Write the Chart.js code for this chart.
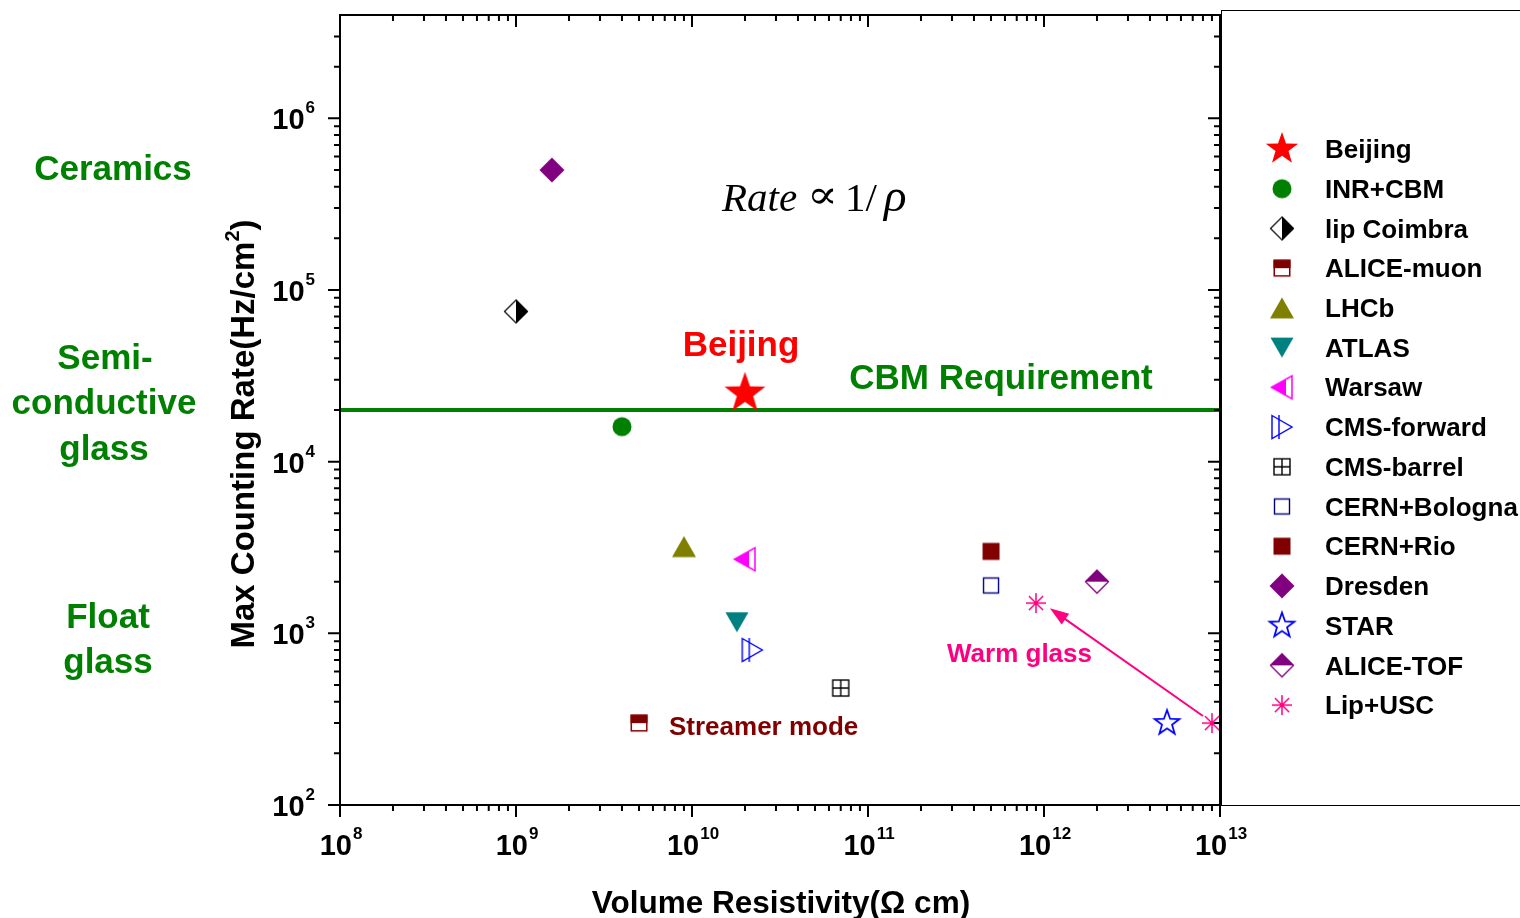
<!DOCTYPE html>
<html><head><meta charset="utf-8">
<script src="https://cdn.jsdelivr.net/npm/chart.js@4.4.1/dist/chart.umd.min.js"></script>
<style>html,body{margin:0;padding:0;background:#fff;overflow:hidden}canvas{display:block}</style>
</head><body><canvas id="c" width="1520" height="918"></canvas>
<script>
// ---------------- data ----------------
const seriesNames = ['Beijing','INR+CBM','lip Coimbra','ALICE-muon','LHCb','ATLAS','Warsaw','CMS-forward','CMS-barrel','CERN+Bologna','CERN+Rio','Dresden','STAR','ALICE-TOF','Lip+USC'];
const resistivity = [[2e10],[4e9],[1e9],[5e9],[9e9],[1.8e10],[2e10],[2.2e10],[7e10],[5e11],[5e11],[1.6e9],[5e12],[2e12],[9e11, 9e12]];
const maxRate     = [[2.5e4],[1.6e4],[7.5e4],[300],[3.2e3],[1.16e3],[2.7e3],[800],[480],[1.9e3],[3e3],[5e5],[300],[2e3],[1.5e3, 300]];
const cbmRequirement = 2e4;
const xRange = [1e8, 1e13];
const yRange = [1e2, 4e6];
const xTickExponents = [8,9,10,11,12,13];
const yTickExponents = [2,3,4,5,6];
const warmArrowFrom = [8e12, 330];
const warmArrowTo = [1.08e12, 1400];

// ---------------- markers ----------------
function mk(size, draw){ const c=document.createElement('canvas'); c.width=size; c.height=size; const g=c.getContext('2d'); g.translate(size/2,size/2); draw(g); return c; }
function starPath(g,R,r){ g.beginPath(); for(let i=0;i<10;i++){ const rad=i%2?r:R; const a=-Math.PI/2+i*Math.PI/5; g.lineTo(rad*Math.cos(a),rad*Math.sin(a)); } g.closePath(); }
function diamondPath(g,h){ g.beginPath(); g.moveTo(0,-h); g.lineTo(h,0); g.lineTo(0,h); g.lineTo(-h,0); g.closePath(); }
const C = {red:'#FF0000',green:'#008000',dred:'#800000',olive:'#808000',teal:'#008080',mag:'#FF00FF',blue:'#0000FF',navy:'#000080',purple:'#800080',pink:'#FF0080'};
function beijingStar(R){ return mk(Math.ceil(2*R+6), g=>{ starPath(g,R,R*0.4); g.fillStyle=C.red; g.fill(); }); }
const markers = [
  beijingStar(21.5),
  mk(24, g=>{ g.beginPath(); g.arc(0,0,9.5,0,Math.PI*2); g.fillStyle=C.green; g.fill(); }),
  mk(30, g=>{ diamondPath(g,12); g.fillStyle='#fff'; g.fill(); g.beginPath(); g.moveTo(0,-12); g.lineTo(12,0); g.lineTo(0,12); g.closePath(); g.fillStyle='#000'; g.fill(); diamondPath(g,11.5); g.lineWidth=1.2; g.strokeStyle='#000'; g.stroke(); }),
  mk(22, g=>{ g.fillStyle='#fff'; g.fillRect(-8,-8,16,16); g.fillStyle=C.dred; g.fillRect(-8.5,-8.5,17,8.5); g.lineWidth=1.5; g.strokeStyle=C.dred; g.strokeRect(-7.75,-7.75,15.5,15.5); }),
  mk(28, g=>{ g.beginPath(); g.moveTo(0,-10.5); g.lineTo(12,10.5); g.lineTo(-12,10.5); g.closePath(); g.fillStyle=C.olive; g.fill(); }),
  mk(28, g=>{ g.beginPath(); g.moveTo(-11.5,-10); g.lineTo(11.5,-10); g.lineTo(0,10); g.closePath(); g.fillStyle=C.teal; g.fill(); }),
  mk(28, g=>{ g.beginPath(); g.moveTo(-10.5,0); g.lineTo(10,-11.5); g.lineTo(10,11.5); g.closePath(); g.save(); g.clip(); g.fillStyle=C.mag; g.fillRect(-11,-12,15,24); g.restore(); g.lineWidth=1.5; g.strokeStyle=C.mag; g.stroke(); }),
  mk(28, g=>{ g.beginPath(); g.moveTo(-10,-11.5); g.lineTo(10,0); g.lineTo(-10,11.5); g.closePath(); g.lineWidth=1.4; g.strokeStyle=C.blue; g.stroke(); g.beginPath(); g.moveTo(-3,-12); g.lineTo(-3,12); g.stroke(); }),
  mk(22, g=>{ g.lineWidth=1.4; g.strokeStyle='#000'; g.strokeRect(-8,-8,16,16); g.beginPath(); g.moveTo(0,-8); g.lineTo(0,8); g.moveTo(-8,0); g.lineTo(8,0); g.stroke(); }),
  mk(22, g=>{ g.fillStyle='#fff'; g.fillRect(-8,-8,16,16); g.lineWidth=1.4; g.strokeStyle=C.navy; g.strokeRect(-7.5,-7.5,15,15); }),
  mk(22, g=>{ g.fillStyle=C.dred; g.fillRect(-8.5,-8.5,17,17); }),
  mk(30, g=>{ diamondPath(g,12.5); g.fillStyle=C.purple; g.fill(); }),
  mk(32, g=>{ starPath(g,13,5.3); g.lineWidth=1.8; g.strokeStyle=C.blue; g.stroke(); }),
  mk(30, g=>{ diamondPath(g,12); g.fillStyle='#fff'; g.fill(); g.beginPath(); g.moveTo(-12,0); g.lineTo(0,-12); g.lineTo(12,0); g.closePath(); g.fillStyle=C.purple; g.fill(); diamondPath(g,11.5); g.lineWidth=1.3; g.strokeStyle=C.purple; g.stroke(); }),
  mk(24, g=>{ g.lineWidth=1.5; g.strokeStyle=C.pink; g.beginPath(); for(let k=0;k<4;k++){ const a=k*Math.PI/4; g.moveTo(-10*Math.cos(a),-10*Math.sin(a)); g.lineTo(10*Math.cos(a),10*Math.sin(a)); } g.stroke(); })
];
const legendMarkers = markers.slice(); legendMarkers[0] = beijingStar(17);

// ---------------- datasets ----------------
const datasets = seriesNames.map((name,i)=>({
  label:name,
  data: resistivity[i].map((x,j)=>({x, y:maxRate[i][j]})),
  pointStyle: markers[i], pointRadius: 10, showLine:false
}));
datasets.push({label:'CBM Requirement', data:[{x:xRange[0],y:cbmRequirement},{x:xRange[1],y:cbmRequirement}], showLine:true, borderColor:C.green, borderWidth:4, pointRadius:0, order:10});

const FONT = '"Liberation Sans", Arial, sans-serif';
function drawPow(ctx, exp, x, baseline, align){
  ctx.font = 'bold 29px '+FONT; const wb = ctx.measureText('10').width;
  ctx.font = 'bold 17px '+FONT; const we = ctx.measureText(String(exp)).width;
  const total = wb + 1 + we;
  const left = align==='center' ? x - total/2 : x - total;
  ctx.textAlign='left'; ctx.textBaseline='alphabetic'; ctx.fillStyle='#000';
  ctx.font = 'bold 29px '+FONT; ctx.fillText('10', left, baseline);
  ctx.font = 'bold 17px '+FONT; ctx.fillText(String(exp), left+wb+1, baseline-16);
}
function txt(ctx, s, x, y, font, color, align){ ctx.font=font; ctx.fillStyle=color; ctx.textAlign=align||'center'; ctx.textBaseline='middle'; ctx.fillText(s,x,y); }

const decor = {
  id:'decor',
  afterDraw(chart){
    const ctx = chart.ctx, a = chart.chartArea, xs = chart.scales.x, ys = chart.scales.y;
    ctx.save();
    // frame
    ctx.strokeStyle='#000'; ctx.lineWidth=2;
    ctx.strokeRect(a.left, a.top, a.right-a.left, a.bottom-a.top);
    // ticks
    ctx.beginPath();
    for (let d=8; d<=13; d++) for (let k=1;k<=9;k++){ const v=k*Math.pow(10,d); if (v>xRange[1]*1.0001) break; const px=xs.getPixelForValue(v); const L=k===1?12:6;
      ctx.moveTo(px,a.bottom); ctx.lineTo(px,a.bottom+L); ctx.moveTo(px,a.top); ctx.lineTo(px,a.top+L); }
    for (let d=2; d<=6; d++) for (let k=1;k<=9;k++){ const v=k*Math.pow(10,d); if (v>=yRange[1]*0.999) break; const py=ys.getPixelForValue(v); const L=k===1?12:6;
      ctx.moveTo(a.left,py); ctx.lineTo(a.left-L,py); ctx.moveTo(a.right,py); ctx.lineTo(a.right-L,py); }
    ctx.stroke();
    // tick labels
    xTickExponents.forEach(e=>drawPow(ctx, e, xs.getPixelForValue(Math.pow(10,e))+1, a.bottom+50, 'center'));
    yTickExponents.forEach(e=>drawPow(ctx, e, a.left-25, ys.getPixelForValue(Math.pow(10,e))+11, 'right'));
    // axis titles
    ctx.fillStyle='#000'; ctx.textBaseline='alphabetic'; ctx.textAlign='left';
    const TF='bold 33px '+FONT, SF='bold 20px '+FONT;
    ctx.font=TF;
    const t1='Max Counting Rate(Hz/cm', w1=ctx.measureText(t1).width;
    ctx.font=SF; const w2=ctx.measureText('2').width;
    ctx.font=TF; const w3=ctx.measureText(')').width;
    const tot=w1+w2+w3;
    ctx.save(); ctx.translate(254, 434); ctx.rotate(-Math.PI/2);
    ctx.fillText(t1, -tot/2, 0);
    ctx.font=SF; ctx.fillText('2', -tot/2+w1, -15);
    ctx.font=TF; ctx.fillText(')', -tot/2+w1+w2, 0);
    ctx.restore();
    ctx.font='bold 31.5px '+FONT; ctx.textAlign='center';
    ctx.fillText('Volume Resistivity(\u03A9 cm)', 781, 913);
    // left category labels
    const G='bold 35px '+FONT;
    txt(ctx,'Ceramics',113,170,G,C.green);
    txt(ctx,'Semi-',105,359,G,C.green);
    txt(ctx,'conductive',104,404,G,C.green);
    txt(ctx,'glass',104,450,G,C.green);
    txt(ctx,'Float',108,618,G,C.green);
    txt(ctx,'glass',108,663,G,C.green);
    // annotations
    txt(ctx,'Beijing',741,346,'bold 35px '+FONT,C.red);
    txt(ctx,'CBM Requirement',1001,379,'bold 35px '+FONT,C.green);
    txt(ctx,'Streamer mode',669,728,'bold 26px '+FONT,C.dred,'left');
    txt(ctx,'Warm glass',947,655,'bold 26px '+FONT,C.pink,'left');
    // formula
    ctx.fillStyle='#000'; ctx.textAlign='left'; ctx.textBaseline='alphabetic';
    ctx.font='italic 41px "Liberation Serif", "Times New Roman", serif'; ctx.fillText('Rate',722,211);
    ctx.font='40px "DejaVu Serif", serif';
    const pw = ctx.measureText('\u221D').width;
    ctx.save(); ctx.translate(807,208); ctx.scale(31/pw, 1); ctx.fillText('\u221D',0,0); ctx.restore();
    ctx.font='41px "Liberation Serif", "Times New Roman", serif'; ctx.fillText('1/',845,211);
    ctx.font='italic 47px "Liberation Serif", "Times New Roman", serif'; ctx.fillText('\u03C1',884,211);
    // arrow
    const x0=xs.getPixelForValue(warmArrowFrom[0]), y0=ys.getPixelForValue(warmArrowFrom[1]);
    const x1=xs.getPixelForValue(warmArrowTo[0]), y1=ys.getPixelForValue(warmArrowTo[1]);
    const ang=Math.atan2(y1-y0,x1-x0);
    ctx.strokeStyle=C.pink; ctx.fillStyle=C.pink; ctx.lineWidth=2;
    ctx.beginPath(); ctx.moveTo(x0,y0); ctx.lineTo(x1-14*Math.cos(ang),y1-14*Math.sin(ang)); ctx.stroke();
    ctx.beginPath(); ctx.moveTo(x1,y1);
    ctx.lineTo(x1-19*Math.cos(ang)+6.5*Math.sin(ang), y1-19*Math.sin(ang)-6.5*Math.cos(ang));
    ctx.lineTo(x1-19*Math.cos(ang)-6.5*Math.sin(ang), y1-19*Math.sin(ang)+6.5*Math.cos(ang));
    ctx.closePath(); ctx.fill();
    // legend box
    ctx.strokeStyle='#000'; ctx.lineWidth=1;
    ctx.strokeRect(a.right+1.5, 10.5, 400, a.bottom-10);
    seriesNames.forEach((n,i)=>{
      const yy = 149 + i*39.72;
      const m = legendMarkers[i];
      ctx.drawImage(m, 1282-m.width/2, yy-m.height/2);
      txt(ctx, n, 1325, yy+2, 'bold 26px '+FONT, '#000', 'left');
    });
    ctx.restore();
  }
};

new Chart(document.getElementById('c'), {
  type:'scatter',
  data:{datasets},
  options:{
    responsive:false, animation:false, devicePixelRatio:1,
    layout:{padding:{left:0,right:300,top:15,bottom:0}},
    plugins:{legend:{display:false}, tooltip:{enabled:false}},
    scales:{
      x:{type:'logarithmic', min:xRange[0], max:xRange[1], grid:{display:false}, border:{display:false}, ticks:{display:false}, afterFit(s){ s.height=113; }},
      y:{type:'logarithmic', min:yRange[0], max:yRange[1], grid:{display:false}, border:{display:false}, ticks:{display:false}, afterFit(s){ s.width=340; }}
    }
  },
  plugins:[decor]
});
</script></body></html>
